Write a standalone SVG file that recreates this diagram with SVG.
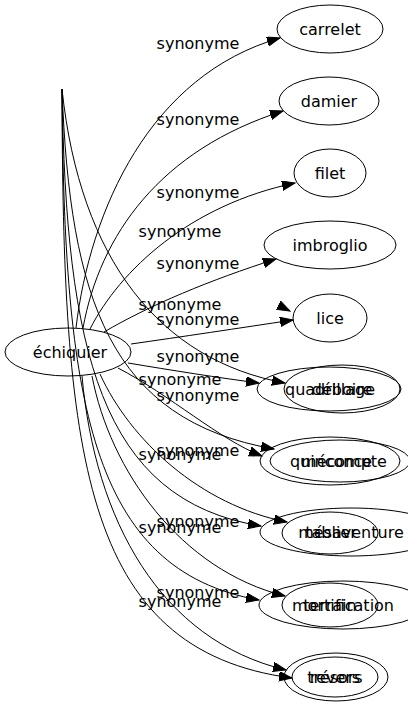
<svg xmlns="http://www.w3.org/2000/svg" width="408" height="707" viewBox="0 0 408 707">
<style>
  .node ellipse { fill: none; stroke: #000; stroke-width: 1; }
  .node text, .lbl { font-family: "DejaVu Sans", "Noto Sans", sans-serif; font-size: 16px; fill: #000; text-anchor: middle; }
  .edge { fill: none; stroke: #000; stroke-width: 1; marker-end: url(#arrow); }
</style>
<defs>
  <marker id="arrow" markerUnits="userSpaceOnUse" markerWidth="14" markerHeight="10" refX="13" refY="4.7" orient="auto">
    <path d="M0,0 L13,4.7 L0,9.4 z" fill="#000" stroke="#000" stroke-width="1"/>
  </marker>
</defs>
<rect width="408" height="707" fill="#fff"/>
<g id="connectors">
  <path class="edge" d="M76,328 C 90,210 150,75 280,38"/>
  <path class="edge" d="M83,328 C 100,235 160,150 283,111"/>
  <path class="edge" d="M90,329 C 120,270 190,205 295,183"/>
  <path class="edge" d="M104,332 C 150,305 210,280 276,259"/>
  <path class="edge" d="M131,344 C 180,337 240,328 293,320"/>
  <path class="edge" d="M128,363 C 170,370 220,378 259,383"/>
  <path class="edge" d="M118,368 C 170,395 220,440 262,456"/>
  <path class="edge" d="M100,374 C 130,440 200,505 287,522"/>
  <path class="edge" d="M92,376 C 110,470 180,570 285,596"/>
  <path class="edge" d="M82,376 C 95,520 160,640 286,670"/>
  <path class="edge" d="M62,89 C 80,260 160,360 285,383"/>
  <path class="edge" d="M278,305 L290,311"/>
  <path class="edge" d="M62,89 C 70,300 110,420 274,449"/>
  <path class="edge" d="M62,89 C 66,350 100,500 261,526"/>
  <path class="edge" d="M62,89 C 64,400 90,570 259,600"/>
  <path class="edge" d="M62,89 C 63,450 80,650 292,678"/>
  <text class="lbl" x="198" y="49">synonyme</text>
  <text class="lbl" x="198" y="125">synonyme</text>
  <text class="lbl" x="198" y="198">synonyme</text>
  <text class="lbl" x="180" y="237">synonyme</text>
  <text class="lbl" x="198" y="269">synonyme</text>
  <text class="lbl" x="180" y="310">synonyme</text>
  <text class="lbl" x="198" y="325">synonyme</text>
  <text class="lbl" x="198" y="362">synonyme</text>
  <text class="lbl" x="180" y="385">synonyme</text>
  <text class="lbl" x="198" y="401">synonyme</text>
  <text class="lbl" x="198" y="456">synonyme</text>
  <text class="lbl" x="180" y="460">synonyme</text>
  <text class="lbl" x="198" y="527">synonyme</text>
  <text class="lbl" x="180" y="533">synonyme</text>
  <text class="lbl" x="198" y="598">synonyme</text>
  <text class="lbl" x="180" y="607">synonyme</text>
</g>
<g id="node-echiquier" class="node"><ellipse cx="68" cy="352" rx="63" ry="24"/><text x="70" y="358">échiquier</text></g>
<g id="node-carrelet" class="node"><ellipse cx="330" cy="29" rx="53" ry="24"/><text x="330" y="35">carrelet</text></g>
<g id="node-damier" class="node"><ellipse cx="329" cy="101" rx="50" ry="24"/><text x="329" y="107">damier</text></g>
<g id="node-filet" class="node"><ellipse cx="330" cy="173" rx="36" ry="24"/><text x="330" y="179">filet</text></g>
<g id="node-imbroglio" class="node"><ellipse cx="330" cy="245" rx="66" ry="24"/><text x="330" y="251">imbroglio</text></g>
<g id="node-lice" class="node"><ellipse cx="330" cy="318" rx="37" ry="24"/><text x="330" y="324">lice</text></g>
<g id="node-quadrillage" class="node"><ellipse cx="329" cy="389" rx="72" ry="22"/><text x="330" y="395">quadrillage</text></g>
<g id="node-deboire" class="node"><ellipse cx="342" cy="389" rx="58" ry="24"/><text x="342" y="395">déboire</text></g>
<g id="node-quinconce" class="node"><ellipse cx="330" cy="461" rx="70" ry="24"/><text x="331" y="467">quinconce</text></g>
<g id="node-mecompte" class="node"><ellipse cx="340" cy="461" rx="70" ry="21"/><text x="344" y="467">mécompte</text></g>
<g id="node-tablier" class="node"><ellipse cx="330" cy="533" rx="48" ry="21"/><text x="331" y="538">tablier</text></g>
<g id="node-mesaventure" class="node"><ellipse cx="351" cy="532" rx="91" ry="24"/><text x="351" y="538">mésaventure</text></g>
<g id="node-terrain" class="node"><ellipse cx="330" cy="605" rx="48" ry="22"/><text x="330" y="611">terrain</text></g>
<g id="node-mortification" class="node"><ellipse cx="343" cy="605" rx="84" ry="24"/><text x="343" y="611">mortification</text></g>
<g id="node-tresors" class="node"><ellipse cx="336" cy="677" rx="52" ry="24"/><text x="335" y="683">trésors</text></g>
<g id="node-revers" class="node"><ellipse cx="335" cy="677" rx="43" ry="20"/><text x="335" y="683">revers</text></g>
</svg>
